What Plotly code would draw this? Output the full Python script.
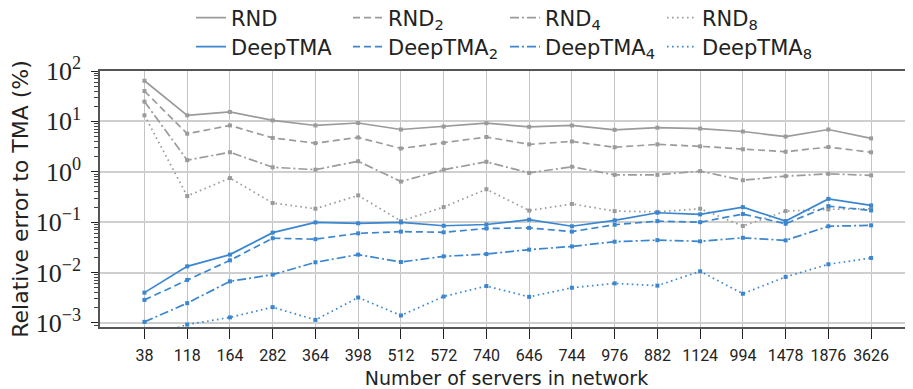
import plotly.graph_objects as go

servers = ["38", "118", "164", "282", "364", "398", "512", "572", "740", "646",
           "744", "976", "882", "1124", "994", "1478", "1876", "3626"]

rnd   = [64, 13.2, 15.4, 10.5, 8.3, 9.3, 6.9, 7.9, 9.2, 7.8, 8.3, 6.8, 7.5, 7.2, 6.3, 5.0, 6.9, 4.6]
rnd2  = [40, 5.7, 8.3, 4.7, 3.7, 4.8, 2.9, 3.75, 4.9, 3.5, 4.0, 3.07, 3.5, 3.2, 2.8, 2.5, 3.1, 2.44]
rnd4  = [24.7, 1.7, 2.44, 1.23, 1.1, 1.62, 0.64, 1.1, 1.58, 0.95, 1.26, 0.87, 0.87, 1.03, 0.68, 0.82, 0.91, 0.85]
rnd8  = [13.2, 0.33, 0.75, 0.24, 0.185, 0.34, 0.105, 0.2, 0.45, 0.17, 0.23, 0.166, 0.16, 0.185, 0.084, 0.166, 0.18, 0.185]

deep  = [0.0040, 0.0133, 0.0227, 0.062, 0.099, 0.095, 0.099, 0.085, 0.090, 0.112, 0.083, 0.109, 0.154, 0.143, 0.199, 0.105, 0.29, 0.215]
deep2 = [0.00287, 0.00714, 0.0175, 0.048, 0.046, 0.060, 0.065, 0.063, 0.075, 0.077, 0.065, 0.089, 0.105, 0.100, 0.145, 0.093, 0.208, 0.171]
deep4 = [0.00105, 0.00247, 0.0067, 0.0091, 0.016, 0.0227, 0.0162, 0.021, 0.0233, 0.0285, 0.033, 0.041, 0.044, 0.0417, 0.049, 0.0436, 0.083, 0.0865]
deep8 = [0.0005, 0.00093, 0.00129, 0.00206, 0.00115, 0.0032, 0.00141, 0.00335, 0.0054, 0.0033, 0.0050, 0.0061, 0.0055, 0.0106, 0.0038, 0.0082, 0.0146, 0.0195]

ytick_vals = [1e-3, 1e-2, 1e-1, 1, 10, 100]
ytick_text = ["10<sup>\u22123</sup>", "10<sup>\u22122</sup>", "10<sup>\u22121</sup>",
              "10<sup>0</sup>", "10<sup>1</sup>", "10<sup>2</sup>"]

GREY = "#9b9b9b"
BLUE = "#3a86d0"
dashes = ["solid", "7px,4px", "9px,3px,2px,3px", "1.6px,3.4px"]

fig = go.Figure()
series = [
    ("RND", rnd, GREY, 0, "legend"),
    ("RND<sub>2</sub>", rnd2, GREY, 1, "legend"),
    ("RND<sub>4</sub>", rnd4, GREY, 2, "legend"),
    ("RND<sub>8</sub>", rnd8, GREY, 3, "legend"),
    ("DeepTMA", deep, BLUE, 0, "legend2"),
    ("DeepTMA<sub>2</sub>", deep2, BLUE, 1, "legend2"),
    ("DeepTMA<sub>4</sub>", deep4, BLUE, 2, "legend2"),
    ("DeepTMA<sub>8</sub>", deep8, BLUE, 3, "legend2"),
]
for name, vals, col, d, lg in series:
    fig.add_trace(go.Scatter(
        x=servers, y=vals, name=name, mode="lines+markers",
        line=dict(color=col, width=1.7, dash=dashes[d]),
        marker=dict(symbol="square", size=4, color=col),
        showlegend=False, cliponaxis=True,
    ))
# legend-only entries (line sample without marker)
for name, vals, col, d, lg in series:
    fig.add_trace(go.Scatter(
        x=[servers[0]], y=[None], name=name, mode="lines",
        line=dict(color=col, width=1.7, dash=dashes[d]),
        legend=lg, showlegend=True, hoverinfo="skip",
    ))

W, H = 905, 381  # page body has an 8px margin

legend_common = dict(
    orientation="h", xref="container", yref="container",
    xanchor="left", yanchor="middle",
    entrywidth=112, entrywidthmode="pixels",
    font=dict(family="DejaVu Sans", size=21, color="#222"),
    bgcolor="rgba(0,0,0,0)", itemwidth=30, tracegroupgap=0,
)

fig.update_layout(
    width=W, height=H,
    margin=dict(l=92, r=0, t=63, b=62, autoexpand=False),
    plot_bgcolor="white", paper_bgcolor="white",
    showlegend=True,
    legend=dict(x=183 / W, y=1 - 10 / H, **legend_common),
    legend2=dict(x=183 / W, y=1 - 39 / H, **legend_common),
    xaxis=dict(
        type="category", categoryorder="array", categoryarray=servers,
        range=[-1.04, 17.98],
        showgrid=True, gridcolor="#c4c4c4", gridwidth=1.3,
        showline=True, linecolor="#555", linewidth=1.6, mirror=True,
        ticks="outside", ticklen=10, tickcolor="#222", tickwidth=1.2,
        ticklabelstandoff=3,
        tickfont=dict(family="Roboto", size=16, color="#222"),
        title=dict(text="Number of servers in network",
                   font=dict(family="DejaVu Sans", size=19, color="#222"), standoff=8),
    ),
    yaxis=dict(
        type="log", range=[-3.08, 2.0],
        tickvals=ytick_vals, ticktext=ytick_text,
        showgrid=True, gridcolor="#cfcfcf", gridwidth=1.5,
        showline=True, linecolor="#555", linewidth=1.6, mirror=True,
        ticks="outside", ticklen=7, tickcolor="#222", tickwidth=1.2,
        ticklabelstandoff=5,
        minor=dict(ticks="outside", ticklen=4, tickcolor="#444", dtick="D1", showgrid=False),
        tickfont=dict(family="Liberation Serif", size=26, color="#222"),
        title=dict(text="Relative error to TMA (%)",
                   font=dict(family="DejaVu Sans", size=22, color="#222"), standoff=4),
        zeroline=False,
    ),
)

fig.write_html("out.html")
